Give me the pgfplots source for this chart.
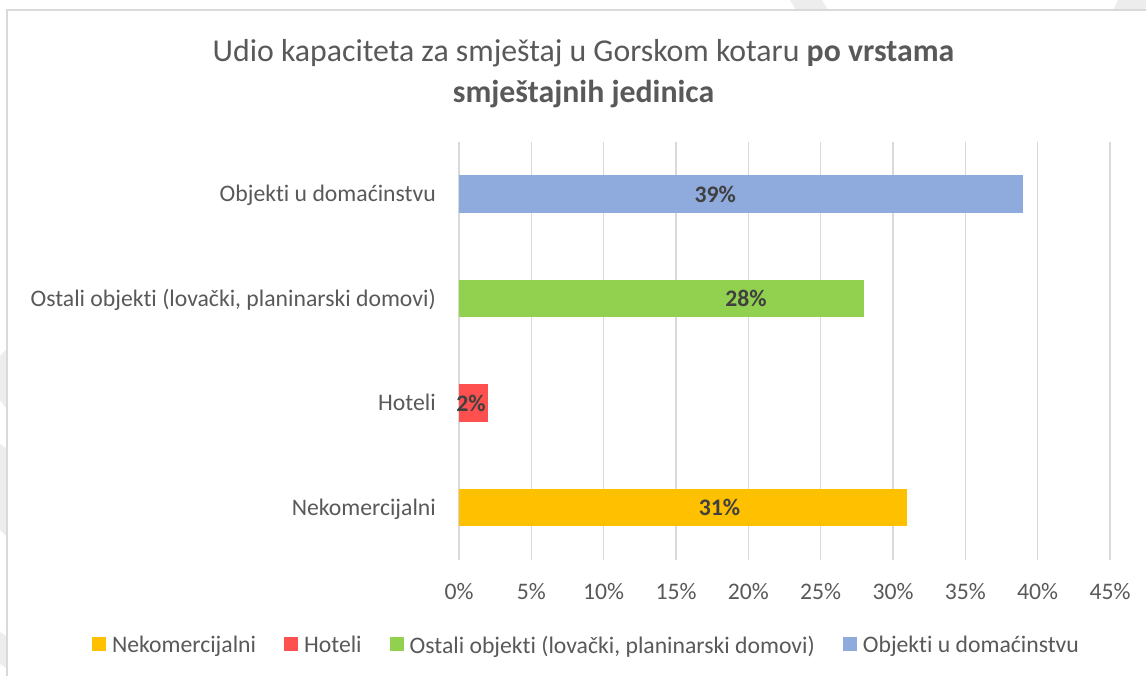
\documentclass[border=0pt]{standalone}
\usepackage{pgfplots}
\pgfplotsset{compat=1.18}
\usepackage{fontspec}
\setmainfont{Carlito}[Ligatures={NoCommon}]
\definecolor{txt}{HTML}{595959}
\definecolor{lbl}{HTML}{404040}
\definecolor{grd}{HTML}{D9D9D9}
\definecolor{wm}{HTML}{EDEDED}
\definecolor{cY}{HTML}{FFC000}
\definecolor{cR}{HTML}{FF5050}
\definecolor{cG}{HTML}{92D050}
\definecolor{cB}{HTML}{8FAADC}
\newcommand{\lf}{\fontsize{23.7}{28}\selectfont}
\begin{document}
\begin{tikzpicture}
\begin{scope}[x=1pt,y=1pt]
\path[use as bounding box, fill=white] (0,0) rectangle (1146,676);
% faint background shapes outside the chart frame
\fill[wm] (790,676) -- (822,676) -- (828,666) -- (796,666) -- cycle;
\fill[wm] (1118,676) -- (1146,676) -- (1146,666) -- (1113,666) -- cycle;
\fill[wm] (0,320) -- (6,326) -- (6,268) -- (0,276) -- cycle;
\fill[wm] (0,232) -- (6,228) -- (6,140) -- (0,146) -- cycle;
\fill[wm] (0,44) -- (6,40) -- (6,8) -- (0,12) -- cycle;
% chart frame
\draw[grd, line width=2pt] (6.5,-5) -- (6.5,665.5) -- (1152,665.5);
% title
\node[anchor=base, text=txt, font=\fontsize{31.8}{38}\selectfont, inner sep=0pt] at (583.5,614)
  {Udio kapaciteta za smještaj u Gorskom kotaru \textbf{po vrstama}};
\node[anchor=base, text=txt, font=\fontsize{31.8}{38}\selectfont, inner sep=0pt] at (583.5,573)
  {\textbf{smještajnih jedinica}};
\end{scope}
\begin{axis}[
  at={(459pt,116pt)}, anchor=south west,
  scale only axis, width=651pt, height=418pt,
  xmin=0, xmax=45, ymin=-0.5, ymax=3.5,
  xtick={0,5,...,45},
  xticklabel={\pgfmathprintnumber{\tick}\%},
  /pgf/number format/assume math mode=true,
  ytick={0,1,2,3},
  yticklabels={Nekomercijalni, Hoteli, {Ostali objekti (lovački, planinarski domovi)}, Objekti u domaćinstvu},
  major tick length=0pt,
  axis line style={draw=none},
  xmajorgrids, major grid style={grd, line width=1.5pt},
  every tick label/.append style={font=\lf, text=txt, inner sep=0pt},
  xticklabel style={anchor=base, yshift=-39.5pt},
  yticklabel style={anchor=base east, xshift=-23pt, yshift=-7.6pt},
  legend columns=4,
  legend cell align=left,
  legend image code/.code={\path[#1,draw=none] (0pt,-6pt) rectangle (14pt,8pt);},
  legend style={at={(axis description cs:-0.5637,-0.2040)}, anchor=west,
    draw=none, fill=none, inner sep=0pt, outer sep=0pt, font=\lf, text=txt,
    nodes={inner sep=0pt},
    /tikz/every odd column/.append style={column sep=6pt},
    /tikz/every even column/.append style={column sep=28pt}},
  point meta=x,
  nodes near coords={\pgfmathprintnumber{\pgfplotspointmeta}\%},
  every node near coord/.append style={font=\lf\bfseries, text=lbl, anchor=center},
]
\addplot[xbar, bar width=37.5pt, bar shift=0pt, fill=cY, draw=none,
  every node near coord/.append style={anchor=center, xshift=-188pt}] coordinates {(31,0)};
\addlegendentry{Nekomercijalni}
\addplot[xbar, bar width=37.5pt, bar shift=0pt, fill=cR, draw=none,
  every node near coord/.append style={anchor=center, xshift=-17pt}] coordinates {(2,1)};
\addlegendentry{Hoteli}
\addplot[xbar, bar width=37.5pt, bar shift=0pt, fill=cG, draw=none,
  every node near coord/.append style={anchor=center, xshift=-118pt}] coordinates {(28,2)};
\addlegendentry{Ostali objekti (lovački, planinarski domovi)}
\addplot[xbar, bar width=37.5pt, bar shift=0pt, fill=cB, draw=none,
  every node near coord/.append style={anchor=center, xshift=-308pt}] coordinates {(39,3)};
\addlegendentry{Objekti u domaćinstvu}
\end{axis}
\end{tikzpicture}
\end{document}
